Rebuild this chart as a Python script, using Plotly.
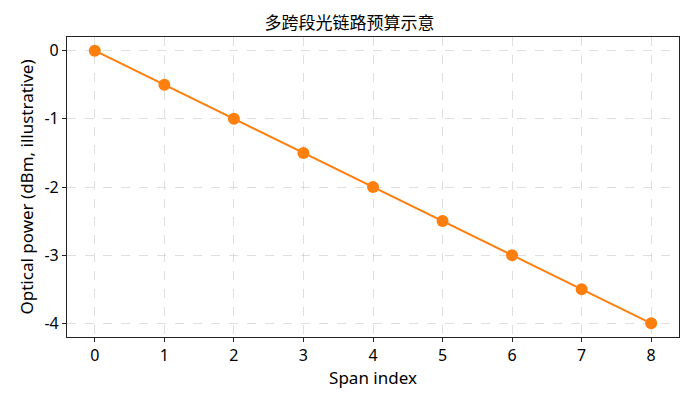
import plotly.graph_objects as go

# span index vs optical power
span_index = [0, 1, 2, 3, 4, 5, 6, 7, 8]
power_dbm = [0, -0.5, -1.0, -1.5, -2.0, -2.5, -3.0, -3.5, -4.0]
x_ticks = [0, 1, 2, 3, 4, 5, 6, 7, 8]
y_ticks = [0, -1, -2, -3, -4]
y_tick_labels = ["0", "-1", "-2", "-3", "-4"]

fig = go.Figure()
fig.add_trace(go.Scatter(
    x=span_index, y=power_dbm, mode="lines+markers",
    line=dict(color="#ff7f0e", width=2),
    marker=dict(color="#ff7f0e", size=12),
))

axis_common = dict(
    showline=True, linecolor="#222", linewidth=1.2, mirror=True,
    ticks="outside", ticklen=4, tickcolor="#222",
    showgrid=True, gridcolor="rgba(176,176,176,0.4)", griddash="dash", gridwidth=1,
    zeroline=False, tickfont=dict(size=16, color="black"),
)

# page body has an 8px margin, so the figure is shrunk and margins trimmed
fig.update_layout(
    width=683, height=397,
    margin=dict(l=59, r=12, t=29, b=68),
    paper_bgcolor="white", plot_bgcolor="white",
    font=dict(family="Noto Sans, Noto Sans CJK SC, sans-serif", color="black"),
    title=dict(text="多跨段光链路预算示意", x=0.5, xanchor="center",
               y=0.963, yanchor="middle", font=dict(size=17)),
    showlegend=False,
    xaxis=dict(axis_common, range=[-0.4, 8.4], tickvals=x_ticks,
               title=dict(text="Span index", font=dict(size=17), standoff=4)),
    yaxis=dict(axis_common, range=[-4.2, 0.2], tickvals=y_ticks, ticktext=y_tick_labels,
               title=dict(text="Optical power (dBm, illustrative)", font=dict(size=17), standoff=6)),
)

fig.write_html("out.html")
